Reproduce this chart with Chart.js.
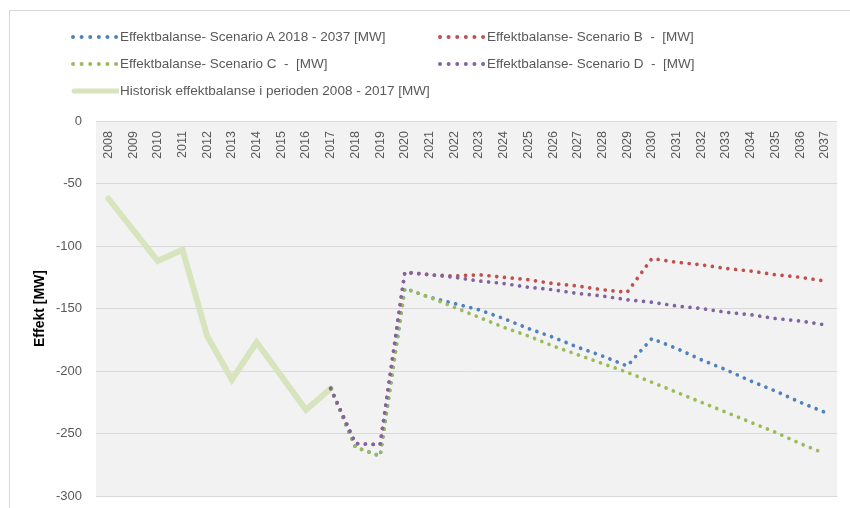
<!DOCTYPE html>
<html>
<head>
<meta charset="utf-8">
<title>Effektbalanse</title>
<script src="https://cdn.jsdelivr.net/npm/chart.js@4.4.1/dist/chart.umd.min.js"></script>
<style>
  html, body { margin: 0; padding: 0; background: #ffffff; }
  #wrap { position: relative; width: 850px; height: 508px; overflow: hidden; }
  #frame { position: absolute; left: 9px; top: 10px; width: 900px; height: 560px;
           border-left: 1px solid #d9d9d9; border-top: 1px solid #d9d9d9; }
  #chart { position: absolute; left: 0; top: 0; }
  #legend { position: absolute; left: 0; top: 0; width: 850px; height: 110px;
            font-family: "Liberation Sans", Arial, sans-serif; font-size: 13.5px; color: #595959; }
  .item { position: absolute; display: flex; align-items: center; height: 20px; white-space: pre; }
  .item svg { display: block; margin-right: 1px; }
</style>
</head>
<body>
<div id="wrap">
  <div id="frame"></div>
  <canvas id="chart" width="850" height="508"></canvas>
  <div id="legend"></div>
</div>
<script>
// Years on the category axis
const years = ['2008','2009','2010','2011','2012','2013','2014','2015','2016','2017',
               '2018','2019','2020','2021','2022','2023','2024','2025','2026','2027',
               '2028','2029','2030','2031','2032','2033','2034','2035','2036','2037'];

// Historical power balance 2008 - 2017 [MW]
const historical = [-62, -87, -112, -103, -172, -207, -177, -204, -231, -214];

// Scenario projections, first value is 2017, last is 2037 [MW]
const scenarioYears = years.slice(9);
const scenarioA = [-214, -261, -268, -134, -141, -146, -151, -158, -166, -173, -181,
                   -188, -196, -174, -182, -191, -199, -208, -216, -225, -233];
const scenarioB = [-214, -258, -259, -121, -123, -124, -123, -125, -127, -130, -132,
                   -135, -137, -110, -113, -115, -118, -120, -123, -125, -128];
const scenarioC = [-214, -261, -268, -134, -141, -149, -157, -165, -172, -180, -187,
                   -194, -201, -209, -217, -225, -233, -241, -249, -258, -266];
const scenarioD = [-214, -258, -259, -121, -123, -125, -128, -130, -133, -135, -138,
                   -140, -143, -145, -148, -150, -153, -155, -158, -160, -163];

// Value axis ticks
const yMin = -300, yMax = 0, yStep = 50;

const labels = {
  A: 'Effektbalanse- Scenario A 2018 - 2037 [MW]',
  B: 'Effektbalanse- Scenario B  -  [MW]',
  C: 'Effektbalanse- Scenario C  -  [MW]',
  D: 'Effektbalanse- Scenario D  -  [MW]',
  H: 'Historisk effektbalanse i perioden 2008 - 2017 [MW]'
};

const toPoints = (xs, ys) => ys.map((v, i) => ({ x: xs[i], y: v }));

function dotted(label, color, values, order) {
  return {
    label, order,
    data: toPoints(scenarioYears, values),
    borderColor: color,
    backgroundColor: color,
    borderWidth: 3.7,
    borderDash: [0.01, 7.8],
    borderCapStyle: 'round',
    borderJoinStyle: 'round',
    pointRadius: 0,
    tension: 0,
    fill: false
  };
}

// Fill the plot area with a light grey panel
const plotPanel = {
  id: 'plotPanel',
  beforeDraw(chart) {
    const { ctx, chartArea: a } = chart;
    ctx.save();
    ctx.fillStyle = '#f2f2f2';
    ctx.fillRect(a.left, a.top, a.right - a.left, a.bottom - a.top);
    ctx.restore();
  }
};

Chart.defaults.font.family = "'Liberation Sans', Arial, sans-serif";

const chart = new Chart(document.getElementById('chart'), {
  type: 'line',
  data: {
    labels: years,
    datasets: [
      dotted(labels.A, '#4f81bd', scenarioA, 4),
      dotted(labels.B, '#c0504d', scenarioB, 3),
      dotted(labels.C, '#9bbb59', scenarioC, 2),
      dotted(labels.D, '#8064a2', scenarioD, 1),
      {
        label: labels.H, order: 5,
        data: toPoints(years, historical),
        borderColor: '#d7e4bd',
        backgroundColor: '#d7e4bd',
        borderWidth: 6,
        borderCapStyle: 'round',
        borderJoinStyle: 'miter',
        pointRadius: 0,
        tension: 0,
        fill: false
      }
    ]
  },
  options: {
    responsive: false,
    animation: false,
    layout: { padding: { top: 121, right: 11, bottom: 12, left: 0 } },
    plugins: {
      legend: { display: false },
      tooltip: { enabled: false }
    },
    scales: {
      x: {
        type: 'category',
        position: { y: 0 },
        offset: true,
        // the axis hangs inside the plot at y = 0, so it takes no layout room
        afterFit(scale) { scale.height = 0; },
        grid: { display: false, drawTicks: false },
        border: { display: false },
        ticks: {
          autoSkip: false,
          minRotation: 90,
          maxRotation: 90,
          padding: 10,
          color: '#595959',
          font: { size: 12.5 }
        }
      },
      y: {
        min: yMin,
        max: yMax,
        afterFit(scale) {
          scale.width = 96;
          // only half a label is needed below the -300 line
          scale.paddingBottom = 8;
        },
        grid: { color: '#d9d9d9', lineWidth: 1, drawTicks: false },
        border: { display: false },
        ticks: {
          stepSize: yStep,
          padding: 14,
          color: '#595959',
          font: { size: 13 }
        },
        title: {
          display: true,
          text: 'Effekt [MW]',
          color: '#000000',
          font: { size: 14, weight: 'bold' },
          padding: { top: 32, bottom: 0 }
        }
      }
    }
  },
  plugins: [plotPanel]
});

// Two-column legend built from the chart's datasets
const legendSlots = [
  { left: 71, top: 26.5 },  // A
  { left: 438, top: 26.5 }, // B
  { left: 71, top: 53.5 },  // C
  { left: 438, top: 53.5 }, // D
  { left: 71, top: 80.5 }   // historical
];
const svgNS = 'http://www.w3.org/2000/svg';
const legendEl = document.getElementById('legend');
chart.data.datasets.forEach((ds, i) => {
  const item = document.createElement('div');
  item.className = 'item';
  item.style.left = legendSlots[i].left + 'px';
  item.style.top = legendSlots[i].top + 'px';
  const svg = document.createElementNS(svgNS, 'svg');
  svg.setAttribute('width', '48');
  svg.setAttribute('height', '10');
  const line = document.createElementNS(svgNS, 'line');
  line.setAttribute('y1', '5');
  line.setAttribute('y2', '5');
  line.setAttribute('stroke', ds.borderColor);
  line.setAttribute('stroke-linecap', 'round');
  if (ds.borderDash) {
    line.setAttribute('x1', '2');
    line.setAttribute('x2', '46');
    line.setAttribute('stroke-width', '4');
    line.setAttribute('stroke-dasharray', '0.01 8.6');
  } else {
    line.setAttribute('x1', '3');
    line.setAttribute('x2', '47');
    line.setAttribute('stroke-width', '5');
  }
  svg.appendChild(line);
  const text = document.createElement('span');
  text.textContent = ds.label;
  item.appendChild(svg);
  item.appendChild(text);
  legendEl.appendChild(item);
});
</script>
</body>
</html>
